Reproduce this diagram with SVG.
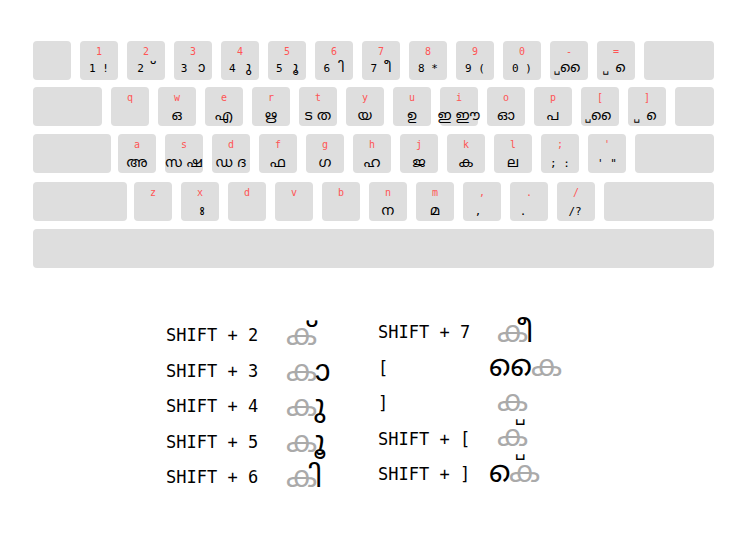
<svg xmlns="http://www.w3.org/2000/svg" width="751" height="547" viewBox="0 0 751 547">
<style>
.k{fill:#dedede}
.l{font-family:"DejaVu Sans Mono",monospace;font-size:10px;fill:#f55;text-anchor:middle}
.g{font-family:"DejaVu Sans Mono","Noto Sans Malayalam",sans-serif;font-size:11px;fill:#000;text-anchor:middle}
.ml{font-family:"Noto Sans Malayalam","DejaVu Sans",sans-serif;font-size:14px}
.s{font-family:"DejaVu Sans Mono",monospace;font-size:17px;fill:#000}
.m{font-family:"Noto Sans Malayalam","DejaVu Sans",sans-serif;font-size:30px;fill:#000}
.gr{fill:#aaa}
.br{font-family:"DejaVu Sans",sans-serif;font-size:17px;fill:#000}
</style>
<rect width="751" height="547" fill="#fff"/>
<g id="row1">
<g id="key-esc"><rect class="k" x="33" y="41" width="38" height="39" rx="4"/></g>
<g id="key-1"><rect class="k" x="80" y="41" width="38" height="39" rx="4"/><text class="l" x="99" y="55">1</text><text class="g" x="99" y="72">1 !</text></g>
<g id="key-2"><rect class="k" x="127" y="41" width="38" height="39" rx="4"/><text class="l" x="146" y="55">2</text><text class="g" x="146" y="72">2 <tspan class="ml">&#xA0;്</tspan></text></g>
<g id="key-3"><rect class="k" x="174" y="41" width="38" height="39" rx="4"/><text class="l" x="193" y="55">3</text><text class="g" x="193" y="72">3 <tspan class="ml">&#xA0;ാ</tspan></text></g>
<g id="key-4"><rect class="k" x="221" y="41" width="38" height="39" rx="4"/><text class="l" x="240" y="55">4</text><text class="g" x="240" y="72">4 <tspan class="ml">&#xA0;ു</tspan></text></g>
<g id="key-5"><rect class="k" x="268" y="41" width="38" height="39" rx="4"/><text class="l" x="287" y="55">5</text><text class="g" x="287" y="72">5 <tspan class="ml">&#xA0;ൂ</tspan></text></g>
<g id="key-6"><rect class="k" x="315" y="41" width="38" height="39" rx="4"/><text class="l" x="334" y="55">6</text><text class="g" x="334" y="72">6 <tspan class="ml">&#xA0;ി</tspan></text></g>
<g id="key-7"><rect class="k" x="362" y="41" width="38" height="39" rx="4"/><text class="l" x="381" y="55">7</text><text class="g" x="381" y="72">7 <tspan class="ml">&#xA0;ീ</tspan></text></g>
<g id="key-8"><rect class="k" x="409" y="41" width="38" height="39" rx="4"/><text class="l" x="428" y="55">8</text><text class="g" x="428" y="72">8 *</text></g>
<g id="key-9"><rect class="k" x="456" y="41" width="38" height="39" rx="4"/><text class="l" x="475" y="55">9</text><text class="g" x="475" y="72">9 (</text></g>
<g id="key-0"><rect class="k" x="503" y="41" width="38" height="39" rx="4"/><text class="l" x="522" y="55">0</text><text class="g" x="522" y="72">0 )</text></g>
<g id="key-minus"><rect class="k" x="550" y="41" width="38" height="39" rx="4"/><text class="l" x="569" y="55">-</text><text class="g" x="569" y="72">␣<tspan class="ml">&#xA0;ൈ</tspan></text></g>
<g id="key-equal"><rect class="k" x="597" y="41" width="38" height="39" rx="4"/><text class="l" x="616" y="55">=</text><text class="g" x="616" y="72">␣ <tspan class="ml">&#xA0;െ</tspan></text></g>
<g id="key-back"><rect class="k" x="644" y="41" width="70" height="39" rx="4"/></g>
</g>
<g id="row2">
<g id="key-tab"><rect class="k" x="33" y="87" width="69" height="39" rx="4"/></g>
<g id="key-q"><rect class="k" x="111" y="87" width="38" height="39" rx="4"/><text class="l" x="130" y="101">q</text></g>
<g id="key-w"><rect class="k" x="158" y="87" width="38" height="39" rx="4"/><text class="l" x="177" y="101">w</text><text class="g ml" x="177" y="120">ഒ</text></g>
<g id="key-e"><rect class="k" x="205" y="87" width="38" height="39" rx="4"/><text class="l" x="224" y="101">e</text><text class="g ml" x="224" y="120">എ</text></g>
<g id="key-r"><rect class="k" x="252" y="87" width="38" height="39" rx="4"/><text class="l" x="271" y="101">r</text><text class="g ml" x="271" y="120">ഋ</text></g>
<g id="key-t"><rect class="k" x="299" y="87" width="38" height="39" rx="4"/><text class="l" x="318" y="101">t</text><text class="g ml" x="318" y="120">ട ത</text></g>
<g id="key-y"><rect class="k" x="346" y="87" width="38" height="39" rx="4"/><text class="l" x="365" y="101">y</text><text class="g ml" x="365" y="120">യ</text></g>
<g id="key-u"><rect class="k" x="393" y="87" width="38" height="39" rx="4"/><text class="l" x="412" y="101">u</text><text class="g ml" x="412" y="120">ഉ</text></g>
<g id="key-i"><rect class="k" x="440" y="87" width="38" height="39" rx="4"/><text class="l" x="459" y="101">i</text><text class="g ml" x="459" y="120">ഇ ഈ</text></g>
<g id="key-o"><rect class="k" x="487" y="87" width="38" height="39" rx="4"/><text class="l" x="506" y="101">o</text><text class="g ml" x="506" y="120">ഓ</text></g>
<g id="key-p"><rect class="k" x="534" y="87" width="38" height="39" rx="4"/><text class="l" x="553" y="101">p</text><text class="g ml" x="553" y="120">പ</text></g>
<g id="key-lbr"><rect class="k" x="581" y="87" width="38" height="39" rx="4"/><text class="l" x="600" y="101">[</text><text class="g" x="600" y="120">␣<tspan class="ml">&#xA0;ൈ</tspan></text></g>
<g id="key-rbr"><rect class="k" x="628" y="87" width="38" height="39" rx="4"/><text class="l" x="647" y="101">]</text><text class="g" x="647" y="120">␣ <tspan class="ml">&#xA0;െ</tspan></text></g>
<g id="key-bsl"><rect class="k" x="675" y="87" width="39" height="39" rx="4"/></g>
</g>
<g id="row3">
<g id="key-caps"><rect class="k" x="33" y="134" width="78" height="39" rx="4"/></g>
<g id="key-a"><rect class="k" x="118" y="134" width="38" height="39" rx="4"/><text class="l" x="137" y="148">a</text><text class="g ml" x="137" y="167">അ</text></g>
<g id="key-s"><rect class="k" x="165" y="134" width="38" height="39" rx="4"/><text class="l" x="184" y="148">s</text><text class="g ml" x="184" y="167">സ ഷ</text></g>
<g id="key-d"><rect class="k" x="212" y="134" width="38" height="39" rx="4"/><text class="l" x="231" y="148">d</text><text class="g ml" x="231" y="167">ഡ ദ</text></g>
<g id="key-f"><rect class="k" x="259" y="134" width="38" height="39" rx="4"/><text class="l" x="278" y="148">f</text><text class="g ml" x="278" y="167">ഫ</text></g>
<g id="key-g"><rect class="k" x="306" y="134" width="38" height="39" rx="4"/><text class="l" x="325" y="148">g</text><text class="g ml" x="325" y="167">ഗ</text></g>
<g id="key-h"><rect class="k" x="353" y="134" width="38" height="39" rx="4"/><text class="l" x="372" y="148">h</text><text class="g ml" x="372" y="167">ഹ</text></g>
<g id="key-j"><rect class="k" x="400" y="134" width="38" height="39" rx="4"/><text class="l" x="419" y="148">j</text><text class="g ml" x="419" y="167">ജ</text></g>
<g id="key-k"><rect class="k" x="447" y="134" width="38" height="39" rx="4"/><text class="l" x="466" y="148">k</text><text class="g ml" x="466" y="167">ക</text></g>
<g id="key-l"><rect class="k" x="494" y="134" width="38" height="39" rx="4"/><text class="l" x="513" y="148">l</text><text class="g ml" x="513" y="167">ല</text></g>
<g id="key-semi"><rect class="k" x="541" y="134" width="38" height="39" rx="4"/><text class="l" x="560" y="148">;</text><text class="g" x="560" y="167">; :</text></g>
<g id="key-quote"><rect class="k" x="588" y="134" width="38" height="39" rx="4"/><text class="l" x="607" y="148">'</text><text class="g" x="607" y="167">' "</text></g>
<g id="key-enter"><rect class="k" x="635" y="134" width="79" height="39" rx="4"/></g>
</g>
<g id="row4">
<g id="key-lshift"><rect class="k" x="33" y="182" width="94" height="39" rx="4"/></g>
<g id="key-z"><rect class="k" x="134" y="182" width="38" height="39" rx="4"/><text class="l" x="153" y="196">z</text></g>
<g id="key-x"><rect class="k" x="181" y="182" width="38" height="39" rx="4"/><text class="l" x="200" y="196">x</text><text class="g ml" x="200" y="215">&#xA0;ഃ</text></g>
<g id="key-c"><rect class="k" x="228" y="182" width="38" height="39" rx="4"/><text class="l" x="247" y="196">d</text></g>
<g id="key-v"><rect class="k" x="275" y="182" width="38" height="39" rx="4"/><text class="l" x="294" y="196">v</text></g>
<g id="key-b"><rect class="k" x="322" y="182" width="38" height="39" rx="4"/><text class="l" x="341" y="196">b</text></g>
<g id="key-n"><rect class="k" x="369" y="182" width="38" height="39" rx="4"/><text class="l" x="388" y="196">n</text><text class="g ml" x="388" y="215">ന</text></g>
<g id="key-m"><rect class="k" x="416" y="182" width="38" height="39" rx="4"/><text class="l" x="435" y="196">m</text><text class="g ml" x="435" y="215">മ</text></g>
<g id="key-comma"><rect class="k" x="463" y="182" width="38" height="39" rx="4"/><text class="l" x="482" y="196">,</text><text class="g" x="478" y="215">,</text></g>
<g id="key-period"><rect class="k" x="510" y="182" width="38" height="39" rx="4"/><text class="l" x="529" y="196">.</text><text class="g" x="523" y="215">.</text></g>
<g id="key-slash"><rect class="k" x="557" y="182" width="38" height="39" rx="4"/><text class="l" x="576" y="196">/</text><text class="g" x="575" y="215">/?</text></g>
<g id="key-rshift"><rect class="k" x="604" y="182" width="110" height="39" rx="4"/></g>
</g>
<g id="row5">
<g id="key-space"><rect class="k" x="33" y="229" width="681" height="39" rx="4"/></g>
</g>
<g id="legend">
<g id="ex-shift2"><text class="s" x="166" y="341">SHIFT + 2</text><text class="m gr" x="286" y="345">ക</text><text class="m" x="306" y="345">&#xA0;്</text></g>
<g id="ex-shift3"><text class="s" x="166" y="377">SHIFT + 3</text><text class="m gr" x="286" y="381">ക</text><text class="m" x="306" y="381">&#xA0;ാ</text></g>
<g id="ex-shift4"><text class="s" x="166" y="412">SHIFT + 4</text><text class="m gr" x="286" y="416">ക</text><text class="m" x="306" y="416">&#xA0;ു</text></g>
<g id="ex-shift5"><text class="s" x="166" y="448">SHIFT + 5</text><text class="m gr" x="286" y="452">ക</text><text class="m" x="306" y="452">&#xA0;ൂ</text></g>
<g id="ex-shift6"><text class="s" x="166" y="483">SHIFT + 6</text><text class="m gr" x="286" y="487">ക</text><text class="m" x="306" y="487">&#xA0;ി</text></g>
<g id="ex-shift7"><text class="s" x="378" y="338">SHIFT + 7</text><text class="m gr" x="497" y="342">ക</text><text class="m" x="517" y="342">&#xA0;ീ</text></g>
<g id="ex-lbr"><text class="s" x="378" y="374">[</text><text class="m" x="489" y="376">&#xA0;ൈ</text><text class="m gr" x="531" y="376">ക</text></g>
<g id="ex-rbr"><text class="s" x="378" y="409">]</text><text class="m gr" x="497" y="411">ക</text><text class="br" x="515" y="421">␣</text></g>
<g id="ex-shiftlbr"><text class="s" x="378" y="445">SHIFT + [</text><text class="m gr" x="497" y="446">ക</text><text class="br" x="515" y="456">␣</text></g>
<g id="ex-shiftrbr"><text class="s" x="378" y="480">SHIFT + ]</text><text class="m" x="489" y="482">&#xA0;െ</text><text class="m gr" x="509" y="482">ക</text></g>
</g>
</svg>
